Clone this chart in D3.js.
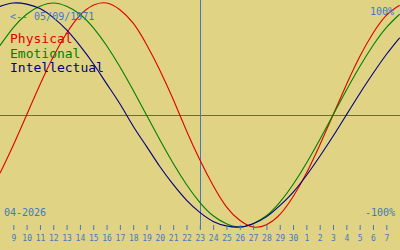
<!DOCTYPE html>
<html>
<head>
<meta charset="utf-8">
<script src="https://cdn.jsdelivr.net/npm/d3@7"></script>
<style>
  html, body { margin: 0; padding: 0; background: #e0d384; }
  svg { display: block; }
  text { font-family: "DejaVu Sans Mono", "Liberation Mono", monospace; }
</style>
</head>
<body>
<script>
var width = 400,
    height = 250;

// day labels under the axis (Apr 9 .. May 7)
var dayLabels = ["9", "10", "11", "12", "13", "14", "15", "16", "17", "18", "19", "20",
    "21", "22", "23", "24", "25", "26", "27", "28", "29", "30",
    "1", "2", "3", "4", "5", "6", "7"];

// curve values, one per day from Apr 8 (index -1) to May 8 (index 29)
var physical = [-0.52, -0.27, 0.00, 0.27, 0.52, 0.73, 0.89, 0.98, 1.00, 0.94, 0.82, 0.63,
    0.40, 0.14, -0.14, -0.40, -0.63, -0.82, -0.94, -1.00, -0.98, -0.89, -0.73, -0.52,
    -0.27, 0.00, 0.27, 0.52, 0.73, 0.89, 0.98];
var emotional = [0.62, 0.78, 0.90, 0.97, 1.00, 0.97, 0.90, 0.78, 0.62, 0.43, 0.22, 0.00,
    -0.22, -0.43, -0.62, -0.78, -0.90, -0.97, -1.00, -0.97, -0.90, -0.78, -0.62, -0.43,
    -0.22, 0.00, 0.22, 0.43, 0.62, 0.78, 0.90];
var intellectual = [0.97, 1.00, 0.99, 0.95, 0.87, 0.76, 0.62, 0.46, 0.28, 0.10, -0.10, -0.28,
    -0.46, -0.62, -0.76, -0.87, -0.95, -0.99, -1.00, -0.97, -0.91, -0.81, -0.69, -0.54,
    -0.37, -0.19, 0.00, 0.19, 0.37, 0.54, 0.69];

var seriesNames = ["Physical", "Emotional", "Intellectual"];
var seriesColors = ["#e00000", "#008000", "#000080"];

var birthLabel = "<-- 05/09/1971";
var monthLabel = "04-2026";
var todayIndex = 14; // the 23rd

var blue = "#3f78c4";

var svg = d3.select("body").append("svg")
    .attr("width", width)
    .attr("height", height);

svg.append("rect")
    .attr("width", width)
    .attr("height", height)
    .attr("fill", "#e0d384");

var x = d3.scaleLinear().domain([0, dayLabels.length - 1]).range([13.3, 386.3]);
var y = d3.scaleLinear().domain([-1, 1]).range([227, 3]);

// zero line and today marker
svg.append("line")
    .attr("x1", 0).attr("x2", width)
    .attr("y1", Math.round(y(0)) + 0.5).attr("y2", Math.round(y(0)) + 0.5)
    .attr("stroke", "#4f6a8c")
    .attr("stroke-width", 1);

svg.append("line")
    .attr("x1", Math.round(x(todayIndex)) + 0.5).attr("x2", Math.round(x(todayIndex)) + 0.5)
    .attr("y1", 0).attr("y2", 229)
    .attr("stroke", blue)
    .attr("stroke-width", 1);

// curves
var line = d3.line()
    .x(function (d, i) { return x(i - 1); })
    .y(function (d) { return y(d); })
    .curve(d3.curveNatural);

var clip = svg.append("clipPath").attr("id", "plot")
    .append("rect").attr("x", 0).attr("y", 0).attr("width", width).attr("height", 230);

var curves = svg.append("g").attr("clip-path", "url(#plot)");
[physical, emotional, intellectual].forEach(function (vals, i) {
    curves.append("path")
        .datum(vals)
        .attr("d", line)
        .attr("fill", "none")
        .attr("stroke", seriesColors[i])
        .attr("stroke-width", 1.1);
});

// axis
var axis = d3.axisBottom(x)
    .tickValues(d3.range(dayLabels.length))
    .tickFormat(function (d) { return dayLabels[d]; })
    .tickSize(5)
    .tickPadding(5);

var axisG = svg.append("g")
    .attr("transform", "translate(0,225)")
    .call(axis);
axisG.select(".domain").remove();
axisG.selectAll(".tick line").attr("stroke", blue);
axisG.selectAll(".tick text")
    .attr("fill", blue)
    .style("font-family", "'DejaVu Sans Mono', monospace")
    .style("font-size", "8px");

// legend
svg.selectAll(".legend")
    .data(seriesNames)
    .enter()
    .append("text")
    .attr("class", "legend")
    .attr("x", 10)
    .attr("y", function (d, i) { return 43 + i * 14.5; })
    .attr("fill", function (d, i) { return seriesColors[i]; })
    .style("font-size", "13px")
    .text(function (d) { return d; });

// corner labels
function label(txt, xPos, yPos, anchor) {
    svg.append("text")
        .attr("x", xPos)
        .attr("y", yPos)
        .attr("text-anchor", anchor)
        .attr("fill", blue)
        .style("font-size", "10px")
        .text(txt);
}
label(birthLabel, 10, 20, "start");
label("100%", 394, 15, "end");
label("-100%", 395, 216, "end");
label(monthLabel, 4, 216, "start");
</script>
</body>
</html>
